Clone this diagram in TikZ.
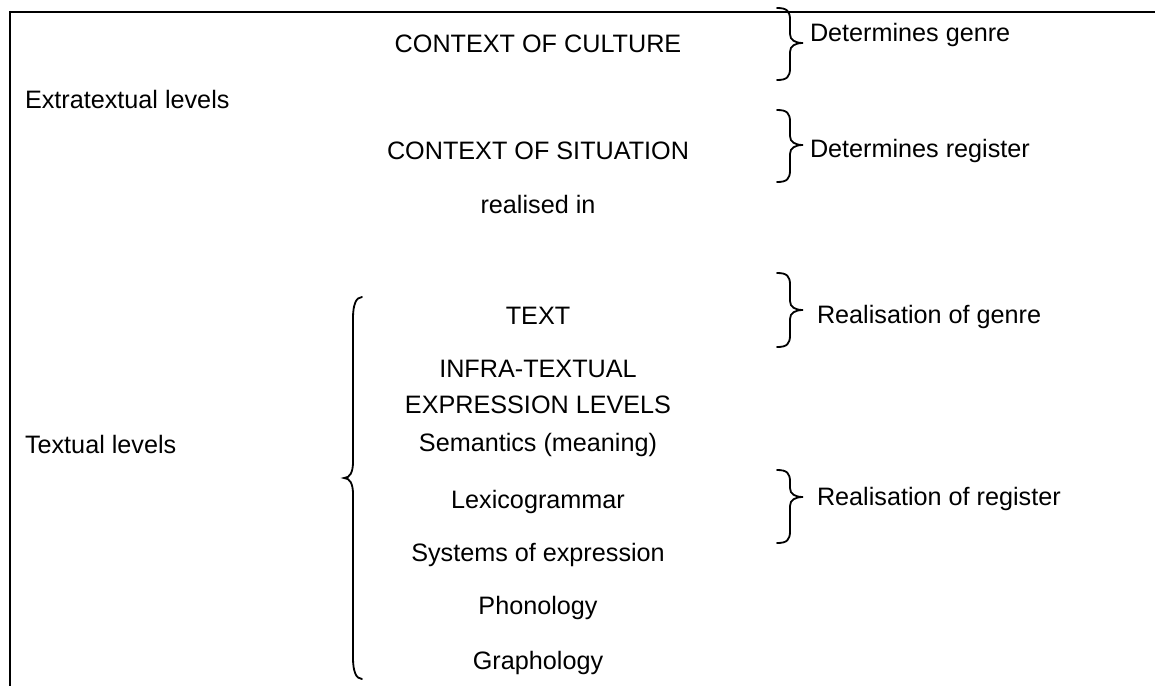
\documentclass[tikz,border=0pt]{standalone}
\usepackage{fontspec}
\setmainfont{Liberation Sans}
\begin{document}
\begin{tikzpicture}[x=1pt,y=-1pt,
  lbl/.style={inner sep=0pt,outer sep=0pt,font=\fontsize{25.2}{30}\selectfont},
  mid/.style={lbl,anchor=base},
  lft/.style={lbl,anchor=base west},
  brace/.style={line width=1.8pt,line cap=round}]
\useasboundingbox (0,0) rectangle (1155,686);
% frame lines
\draw[line width=2.2pt] (10,12) -- (1155,12);
\draw[line width=2.2pt] (10,10.9) -- (10,686);
% centre column
\node[mid] (culture) at (538,52) {CONTEXT OF CULTURE};
\node[mid] (situation) at (538,159) {CONTEXT OF SITUATION};
\node[mid] (realised) at (538,213) {realised in};
\node[mid] (text) at (538,324) {TEXT};
\node[mid] (infra1) at (538,377) {INFRA-TEXTUAL};
\node[mid] (infra2) at (538,413) {EXPRESSION LEVELS};
\node[mid] (sem) at (538,451) {Semantics (meaning)};
\node[mid] (lex) at (538,508) {Lexicogrammar};
\node[mid] (sys) at (538,561) {Systems of expression};
\node[mid] (phon) at (538,614) {Phonology};
\node[mid] (graph) at (538,669) {Graphology};
% left labels
\node[lft] (extra) at (25,108) {Extratextual levels};
\node[lft] (textual) at (25,453) {Textual levels};
% right labels
\node[lft] (detgenre) at (810,41) {Determines genre};
\node[lft] (detreg) at (810,157) {Determines register};
\node[lft] (realgenre) at (817,323) {Realisation of genre};
\node[lft] (realreg) at (817,505) {Realisation of register};
% right braces
\foreach \t/\m/\b in {8/43/80, 110/145/182, 273/310/347, 470/497/543}{
  \draw[brace] (777,\t) .. controls (787,\t) and (790,\t+3) .. (790,\t+12)
    -- (790,\m-9) .. controls (790,\m-3) and (795,\m) .. (803,\m)
    .. controls (795,\m) and (790,\m+3) .. (790,\m+9)
    -- (790,\b-12) .. controls (790,\b-3) and (787,\b) .. (777,\b);
}
% left brace
\draw[brace] (362,297) .. controls (356,297) and (353,305) .. (353,318)
  -- (353,462) .. controls (353,472) and (350,478) .. (344,478)
  .. controls (350,478) and (353,484) .. (353,494)
  -- (353,658) .. controls (353,671) and (356,679) .. (362,679);
\end{tikzpicture}
\end{document}
